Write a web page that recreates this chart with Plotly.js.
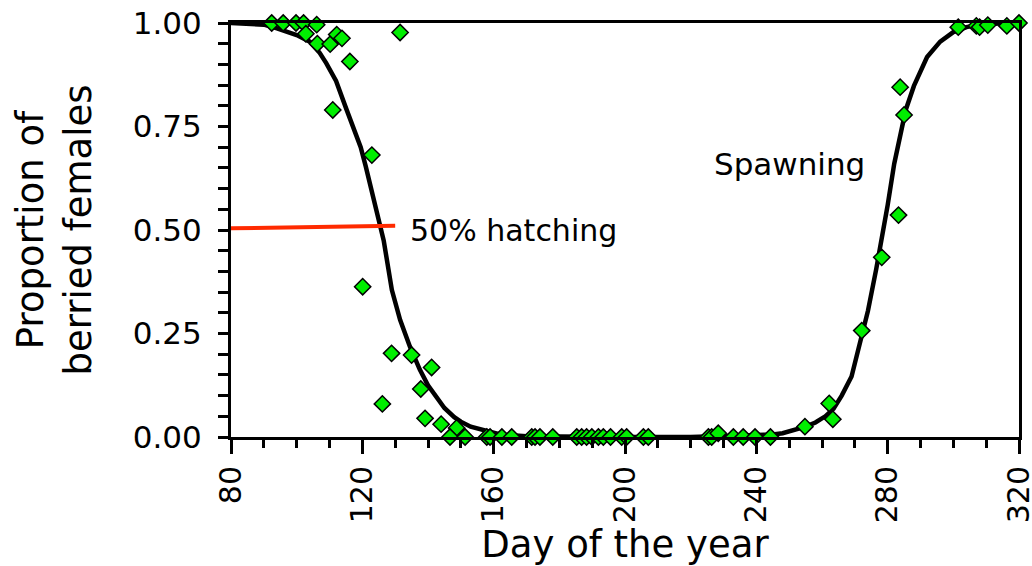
<!DOCTYPE html>
<html>
<head>
<meta charset="utf-8">
<script src="https://cdn.plot.ly/plotly-3.0.1.min.js"></script>
<style>html,body{margin:0;padding:0;background:#fff;}#chart{width:1032px;height:566px;}</style>
</head>
<body>
<div id="chart"></div>
<script>
// Observed proportions (green diamonds)
const obsDay = [92.4, 95.9, 99.8, 102.1, 106.1, 102.8, 106.3, 110.2, 112.2, 113.8, 116.2, 131.5, 111.0, 122.9,
  120.1, 128.9, 135.0, 141.1, 137.8, 126.1, 139.1, 144.0, 148.7, 146.7, 151.3,
  157.9, 158.9, 162.5, 165.5, 171.6, 172.6, 174.1, 178.0, 185.3, 186.8, 188.3, 189.9, 191.9, 193.4, 195.6,
  199.0, 200.5, 205.6, 207.1, 225.4, 226.4, 228.4, 233.0, 236.0, 239.6, 244.3,
  254.8, 262.2, 263.3, 272.1, 278.2, 283.3, 283.8, 285.0,
  301.5, 307.0, 308.0, 310.5, 316.3, 320.0];
const obsProp = [1.0, 1.0, 1.0, 1.0, 0.996, 0.974, 0.95, 0.949, 0.972, 0.963, 0.907, 0.977, 0.79, 0.681,
  0.363, 0.202, 0.198, 0.168, 0.116, 0.08, 0.045, 0.031, 0.022, 0.0, 0.0,
  0.0, 0.0, 0.0, 0.0, 0.0, 0.0, 0.0, 0.0, 0.0, 0.0, 0.0, 0.0, 0.0, 0.0, 0.0,
  0.0, 0.0, 0.0, 0.0, 0.0, 0.0, 0.009, 0.0, 0.0, 0.0, 0.0,
  0.025, 0.081, 0.043, 0.257, 0.434, 0.536, 0.845, 0.778,
  0.99, 0.993, 0.99, 0.995, 0.993, 1.0];

// Fitted curve (black line)
const fitDay = [80, 85, 90, 94, 100, 104, 107, 109, 112, 115, 117, 119.5, 121, 123, 125, 126.5, 129, 131.5, 134.5,
  137.5, 140, 142.5, 145, 148, 150, 153, 158, 162, 170, 180, 200, 220, 240, 245, 248, 251, 255, 258, 261,
  263.5, 266, 269, 271.5, 274, 276.5, 278.5, 280, 282, 283.5, 285.5, 288, 292, 296, 300, 304, 308, 312, 320];
const fitProp = [1.0, 0.999, 0.996, 0.987, 0.971, 0.955, 0.928, 0.903, 0.86, 0.795, 0.75, 0.70, 0.655, 0.59, 0.524,
  0.475, 0.355, 0.283, 0.218, 0.163, 0.125, 0.097, 0.07, 0.048, 0.037, 0.025, 0.013, 0.006, 0.002, 0.001, 0.0,
  0.0, 0.003, 0.006, 0.009, 0.015, 0.025, 0.035, 0.05, 0.068, 0.1, 0.146, 0.225, 0.305, 0.405, 0.49, 0.56,
  0.66, 0.72, 0.79, 0.848, 0.918, 0.955, 0.978, 0.99, 0.996, 0.998, 1.0];

// 50% hatching marker line
const hatchDay = [80, 130];
const hatchProp = [0.504, 0.51];

const xTickVals = [80, 120, 160, 200, 240, 280, 320];
const yTickVals = [0, 0.25, 0.5, 0.75, 1.0];
const yTickText = ['0.00', '0.25', '0.50', '0.75', '1.00'];

const FONT = 'DejaVu Sans, Open Sans, sans-serif';

const traces = [
  {x: fitDay, y: fitProp, type: 'scatter', mode: 'lines',
   line: {color: '#000', width: 4.5}, hoverinfo: 'skip', cliponaxis: false},
  {x: hatchDay, y: hatchProp, type: 'scatter', mode: 'lines',
   line: {color: '#ff2a00', width: 4}, hoverinfo: 'skip', cliponaxis: false},
  {x: obsDay, y: obsProp, type: 'scatter', mode: 'markers', cliponaxis: false,
   marker: {symbol: 'diamond', size: 12.5, color: '#00ee00', line: {color: '#000', width: 1.5}}}
];

const layout = {
  width: 1032, height: 566,
  margin: {l: 231, r: 13, t: 23, b: 129},
  paper_bgcolor: '#fff', plot_bgcolor: '#fff',
  showlegend: false,
  font: {family: FONT, color: '#000', size: 31},
  xaxis: {
    range: [80, 320], tickvals: xTickVals, tickangle: -90,
    ticks: 'outside', ticklen: 14, tickwidth: 3, tickcolor: '#000',
    minor: {dtick: 10, ticks: 'outside', ticklen: 8, tickwidth: 3, tickcolor: '#000'},
    showline: true, linewidth: 3, linecolor: '#000', mirror: true,
    showgrid: false, zeroline: false, ticklabeloverflow: 'allow',
    tickfont: {family: FONT, size: 30},
    title: {text: 'Day of the year', font: {family: FONT, size: 37}, standoff: 10}
  },
  yaxis: {
    range: [0, 1], tickvals: yTickVals, ticktext: yTickText,
    ticks: 'outside', ticklen: 10, tickwidth: 3, tickcolor: '#000',
    minor: {dtick: 0.05, ticks: 'outside', ticklen: 10, tickwidth: 3, tickcolor: '#000'},
    showline: true, linewidth: 3, linecolor: '#000', mirror: true,
    showgrid: false, zeroline: false,
    ticklabelstandoff: 10,
    tickfont: {family: FONT, size: 31},
    title: {text: 'Proportion of<br>berried females', font: {family: FONT, size: 37}, standoff: 30}
  },
  annotations: [
    {x: 0.2245, y: 0.5, xref: 'paper', yref: 'y', xanchor: 'left', yanchor: 'middle',
     text: '50% hatching', showarrow: false, font: {family: FONT, size: 30, color: '#000'}},
    {x: 0.61, y: 0.66, xref: 'paper', yref: 'y', xanchor: 'left', yanchor: 'middle',
     text: 'Spawning', showarrow: false, font: {family: FONT, size: 31, color: '#000'}}
  ]
};

Plotly.newPlot('chart', traces, layout, {displayModeBar: false, staticPlot: true});
</script>
</body>
</html>
